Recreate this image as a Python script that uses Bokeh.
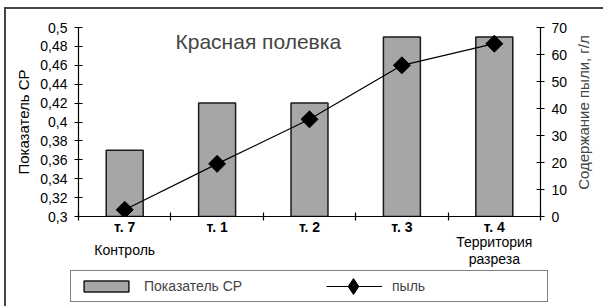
import math
from bokeh.plotting import figure
from bokeh.layouts import column, row
from bokeh.models import Range1d, LinearAxis, FixedTicker, Label, Legend, LegendItem
from bokeh.embed import file_html
from bokeh.resources import INLINE

categories = ["т. 7", "т. 1", "т. 2", "т. 3", "т. 4"]
sr_values = [0.37, 0.42, 0.42, 0.49, 0.49]
dust_values = [2.5, 19.5, 36, 56, 64]
sr_ticks = [0.30, 0.32, 0.34, 0.36, 0.38, 0.40, 0.42, 0.44, 0.46, 0.48, 0.50]
sr_tick_labels = ["0,3", "0,32", "0,34", "0,36", "0,38", "0,4", "0,42", "0,44", "0,46", "0,48", "0,5"]
dust_ticks = [0, 10, 20, 30, 40, 50, 60, 70]
title_text = "Красная полевка"
left_label = "Показатель СР"
right_label = "Содержание пыли, г/л"
legend_labels = ["Показатель СР", "пыль"]
control_index = 0
control_text = "Контроль"
territory_index = 4
territory_text = "Территория\nразреза"

FONT = "Liberation Sans"
BAR_FILL = "#a6a6a6"
BAR_LINE = "#1a1a1a"
xs = [i + 0.5 for i in range(len(categories))]
bounds = list(range(len(categories) + 1))

W = 597
WR = 29          # strip holding the right-hand axis title
H1 = 261
H2 = 36

p = figure(width=W - WR, height=H1, x_range=Range1d(0, len(categories)),
           y_range=Range1d(sr_ticks[0], sr_ticks[-1]),
           output_backend="svg", toolbar_location=None,
           x_axis_type=None, y_axis_type=None,
           min_border_left=72, min_border_right=34, min_border_top=18, min_border_bottom=54)
p.outline_line_color = None
p.background_fill_color = "white"
p.border_fill_color = "white"

def style_axis(ax, size="14px"):
    ax.axis_line_color = "black"
    ax.axis_line_width = 1.2
    ax.major_tick_line_color = "black"
    ax.major_tick_line_width = 1.2
    ax.minor_tick_line_color = "black"
    ax.minor_tick_line_width = 1.2
    ax.major_label_text_font = FONT
    ax.major_label_text_font_size = size
    ax.major_label_text_color = "black"
    ax.axis_label_text_font = FONT
    ax.axis_label_text_font_size = "15px"
    ax.axis_label_text_font_style = "normal"
    ax.axis_label_text_color = "black"

def text_axis(ticks, labels, standoff):
    ax = LinearAxis(ticker=FixedTicker(ticks=ticks, minor_ticks=[]),
                    major_label_overrides=dict(zip(ticks, labels)))
    style_axis(ax)
    ax.axis_line_color = None
    ax.major_tick_line_color = None
    ax.major_tick_in = 0
    ax.major_tick_out = 0
    ax.major_label_standoff = standoff
    ax.major_label_text_line_height = 1.1
    return ax

yl = LinearAxis(ticker=FixedTicker(ticks=sr_ticks, minor_ticks=[]),
                major_label_overrides=dict(zip(sr_ticks, sr_tick_labels)),
                axis_label=left_label)
style_axis(yl)
yl.major_tick_in = 4
yl.major_tick_out = 4
yl.major_label_standoff = 7
yl.axis_label_standoff = 5
p.add_layout(yl, "left")

p.extra_y_ranges = {"dust": Range1d(dust_ticks[0], dust_ticks[-1])}
yr = LinearAxis(y_range_name="dust", ticker=FixedTicker(ticks=dust_ticks, minor_ticks=[]))
style_axis(yr)
yr.major_tick_in = 4
yr.major_tick_out = 4
yr.major_label_standoff = 7
p.add_layout(yr, "right")

xa = LinearAxis(ticker=FixedTicker(ticks=xs, minor_ticks=bounds),
                major_label_overrides=dict(zip(xs, categories)))
style_axis(xa)
xa.major_tick_in = 0
xa.major_tick_out = 0
xa.minor_tick_in = 4
xa.minor_tick_out = 4
xa.major_label_standoff = -2
xa.major_label_text_font_style = "bold"
p.add_layout(xa, "below")

p.add_layout(text_axis([xs[control_index]], [control_text], 4), "below")
p.add_layout(text_axis([xs[territory_index]], [territory_text], -27), "below")

bars = p.vbar(x=xs, top=sr_values, bottom=sr_ticks[0], width=0.4,
              fill_color=BAR_FILL, line_color=BAR_LINE, line_width=1.5)
line = p.line(xs, dust_values, y_range_name="dust", line_color="black", line_width=1.2)
pts = p.scatter(xs, dust_values, y_range_name="dust", marker="square", size=12,
                angle=math.pi / 4, fill_color="black", line_color="black")

p.add_layout(Label(x=1.05, y=0.485, text=title_text, text_font=FONT,
                   text_font_size="21px", text_baseline="middle", text_align="left"))

# right-hand axis title strip
p3 = figure(width=WR, height=H1, x_range=Range1d(0, 1), y_range=Range1d(0, 1),
            output_backend="svg", toolbar_location=None,
            x_axis_type=None, y_axis_type=None,
            min_border_left=0, min_border_right=0, min_border_top=0, min_border_bottom=0)
p3.outline_line_color = None
p3.background_fill_color = "white"
p3.border_fill_color = "white"
p3.add_layout(Label(x=0.31, y=0.55, text=right_label, angle=math.pi / 2,
                    text_font=FONT, text_font_size="15px",
                    text_align="center", text_baseline="middle"))

# legend strip
p2 = figure(width=W, height=H2, x_range=Range1d(0, 1), y_range=Range1d(0, 1),
            output_backend="svg", toolbar_location=None,
            x_axis_type=None, y_axis_type=None,
            min_border_left=64, min_border_right=0, min_border_top=0, min_border_bottom=0)
p2.outline_line_color = None
p2.background_fill_color = "white"
p2.border_fill_color = "white"
off = [-5]
lb = p2.vbar(x=off, top=off, bottom=off, width=0.4, fill_color=BAR_FILL,
             line_color=BAR_LINE, line_width=1.5)
ll = p2.line(x=off, y=off, line_color="black", line_width=1.2)
lp = p2.scatter(x=off, y=off, marker="diamond", fill_color="black", line_color="black")

PAD, GW, GS, LW, SP = 7, 56, 10, 148, 34
legend = Legend(items=[LegendItem(label=legend_labels[0], renderers=[lb]),
                       LegendItem(label=legend_labels[1], renderers=[ll])],
                orientation="horizontal", location="top_left",
                glyph_width=GW, glyph_height=14, label_width=LW, label_height=14,
                label_standoff=GS, spacing=SP, padding=PAD, margin=0,
                border_line_color="black", border_line_width=1.2,
                background_fill_color="white", background_fill_alpha=1,
                label_text_font=FONT, label_text_font_size="14px")
p2.add_layout(legend)

MK = 40
marker_cx = PAD + GW + GS + LW + SP + GW / 2
marker_cy = H2 - 15.5
legend_marker = Legend(items=[LegendItem(label="", renderers=[lp])],
                       orientation="horizontal",
                       location=(marker_cx - MK / 2, marker_cy - MK / 2),
                       glyph_width=MK, glyph_height=MK, label_width=0, label_height=0,
                       label_standoff=0, spacing=0, padding=0, margin=0,
                       border_line_color=None, background_fill_alpha=0,
                       label_text_font=FONT, label_text_font_size="1px")
p2.add_layout(legend_marker)

layout = column(row(p, p3, spacing=0), p2, spacing=0,
                styles={"margin-left": "4px", "margin-top": "7px",
                        "border-left": "2px solid #454545", "border-top": "2px solid #454545"})

open("out.html", "w").write(file_html(layout, INLINE))
